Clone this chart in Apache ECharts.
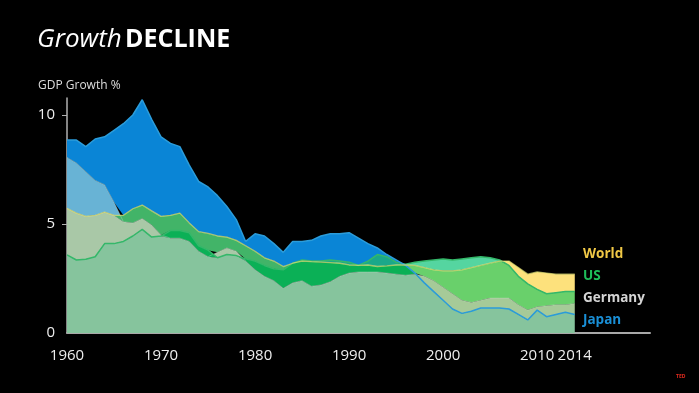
<!DOCTYPE html>
<html><head><meta charset="utf-8">
<script src="https://cdn.jsdelivr.net/npm/echarts@6/dist/echarts.min.js"></script>
<style>html,body{margin:0;padding:0;background:#000}#c{width:699px;height:393px}</style>
</head><body><div id="c"></div>
<script>
const axisYears = [1960,1961,1962,1963,1964,1965,1966,1967,1968,1969,
  1970,1971,1972,1973,1974,1975,1976,1977,1978,1979,
  1980,1981,1982,1983,1984,1985,1986,1987,1988,1989,
  1990,1991,1992,1993,1994,1995,1996,1997,1998,1999,
  2000,2001,2002,2003,2004,2005,2006,2007,2008,2009,
  2010,2011,2012,2013,2014,2015,2016,2017,2018,2019,
  2020,2021,2022];
const japan = [8.85,8.85,8.55,8.9,9.0,9.3,9.6,10.0,10.7,9.8,
  9.0,8.7,8.55,7.7,6.95,6.7,6.3,5.8,5.2,4.2,
  4.55,4.45,4.1,3.7,4.2,4.2,4.25,4.45,4.55,4.55,
  4.6,4.35,4.1,3.9,3.6,3.35,3.1,2.75,2.3,1.9,
  1.5,1.1,0.9,1.0,1.15,1.15,1.15,1.1,0.85,0.6,
  1.05,0.75,0.85,0.95,0.85];
const germany = [8.05,7.8,7.4,7.0,6.8,6.0,5.1,5.05,5.25,4.95,
  4.5,4.35,4.35,4.2,3.75,3.5,3.7,3.9,3.75,3.3,
  2.9,2.6,2.4,2.05,2.3,2.4,2.15,2.2,2.35,2.6,
  2.75,2.8,2.8,2.8,2.75,2.7,2.65,2.7,2.6,2.4,
  2.1,1.8,1.5,1.4,1.5,1.6,1.6,1.6,1.3,1.05,
  1.2,1.25,1.3,1.3,1.35];
const usa = [3.58,3.35,3.38,3.5,4.1,4.1,4.2,4.45,4.75,4.4,
  4.45,4.7,4.7,4.6,4.0,3.8,3.45,3.6,3.55,3.4,
  3.3,3.1,2.95,2.9,3.2,3.35,3.3,3.3,3.35,3.3,
  3.25,3.1,3.3,3.6,3.5,3.25,3.15,3.25,3.3,3.35,
  3.4,3.35,3.4,3.45,3.5,3.45,3.35,3.1,2.6,2.25,
  2.0,1.8,1.85,1.9,1.9];
const world = [5.72,5.5,5.35,5.4,5.55,5.4,5.4,5.7,5.87,5.6,
  5.35,5.4,5.5,5.05,4.65,4.57,4.45,4.4,4.25,4.0,
  3.75,3.45,3.3,3.05,3.2,3.3,3.27,3.25,3.23,3.2,
  3.12,3.1,3.12,3.05,3.08,3.12,3.12,3.1,3.0,2.9,
  2.85,2.85,2.9,3.0,3.1,3.2,3.3,3.3,3.0,2.7,
  2.8,2.75,2.7,2.7,2.7];
const xTickLabels = ['1960','1970','1980','1990','2000','2010','2014'];
const yTickLabels = [0,5,10];
const legendNames = ['World','US','Germany','Japan'];

// colour of each overlap combination (bit 1 Japan, 2 Germany, 4 World, 8 US)
const groups = [japan, germany, world, usa];
const bandColors = {
  1:'#0a85d6', 2:'#c6cfcf', 3:'#68b3d5', 4:'#fde17c', 5:'#42b468',
  6:'#c8d4a0', 7:'#a9c8a7', 8:'#55d5a0', 9:'#1aa88a', 10:'#a0d4b8',
  11:'#72bfb0', 12:'#69d06b', 13:'#0bb056', 14:'#a6ca98', 15:'#86c49d'
};
const series = [];
for (let mask = 1; mask < 16; mask++) {
  const base = [], band = [];
  japan.forEach((_, i) => {
    let lo = 0, hi = Infinity;
    groups.forEach((g, k) => {
      if (mask & (1 << k)) hi = Math.min(hi, g[i]); else lo = Math.max(lo, g[i]);
    });
    const h = Math.max(0, hi - lo);
    base.push(h > 0 ? lo : Math.min(lo, hi));
    band.push(h);
  });
  series.push({type:'line', stack:'s'+mask, data:base, symbol:'none', showSymbol:false,
    lineStyle:{opacity:0}, silent:true, z:2});
  series.push({type:'line', stack:'s'+mask, data:band, symbol:'none', showSymbol:false,
    lineStyle:{opacity:0}, areaStyle:{color:bandColors[mask], opacity:1}, silent:true, z:2});
}
series.push({type:'line', name:'Germany', data:germany, symbol:'none', z:3,
  lineStyle:{width:1, color:'rgba(205,220,210,0.35)'}});
series.push({type:'line', name:'US', data:usa, symbol:'none', z:3,
  lineStyle:{width:1.5, color:'#34b86a'}});
series.push({type:'line', name:'Japan', data:japan, symbol:'none', z:3,
  lineStyle:{width:1.5, color:'#2b9cda'}});
series.push({type:'line', name:'World', data:world, symbol:'none', z:3,
  lineStyle:{width:1.3, color:'rgba(225,225,120,0.7)'}});

const FONT = '"Open Sans", sans-serif';
const legendColors = ['#f0c846','#1ebe5a','#d4d4d4','#1a8fd6'];
const graphics = [
  {type:'text', left:37, top:27, style:{
    text:'{a|Growth} {b|DECLINE}', rich:{
      a:{fontFamily:FONT, fontStyle:'italic', fontSize:26, fill:'#fff'},
      b:{fontFamily:FONT, fontWeight:'bold', fontSize:25, fill:'#fff'}
    }}},
  {type:'text', left:38, top:80, style:{text:'GDP Growth %', fontFamily:FONT, fontSize:12, fill:'#ddd'}},
  {type:'text', left:676, top:374, style:{text:'TED', fontFamily:FONT, fontSize:5, fontWeight:'bold', fill:'#e62b1e'}}
];
legendNames.forEach((n, i) => {
  graphics.push({type:'text', left:583, top:247 + i*22,
    style:{text:n, fontFamily:FONT, fontWeight:'bold', fontSize:13.5, fill:legendColors[i]}});
});

const chart = echarts.init(document.getElementById('c'), null, {renderer:'canvas'});
chart.setOption({
  backgroundColor:'#000',
  animation:false,
  grid:{left:67, right:49, top:98, bottom:60, containLabel:false},
  xAxis:{type:'category', data:axisYears, boundaryGap:false,
    axisLine:{show:true, lineStyle:{color:'#a8a8a8', width:2}},
    axisTick:{show:false}, splitLine:{show:false},
    axisLabel:{interval:(idx, val) => xTickLabels.includes(String(val)),
      hideOverlap:false, color:'#eee', fontSize:15, margin:15, fontFamily:FONT}},
  yAxis:{type:'value', min:0, max:10.78,
    axisLine:{show:true, lineStyle:{color:'#b0b0b0', width:1.5}},
    axisTick:{show:true, customValues:[5,10], length:5, lineStyle:{color:'#b0b0b0'}},
    splitLine:{show:false},
    axisLabel:{customValues:yTickLabels, color:'#eee', fontSize:15, margin:12, fontFamily:FONT}},
  graphic:graphics,
  series:series
});
</script></body></html>
